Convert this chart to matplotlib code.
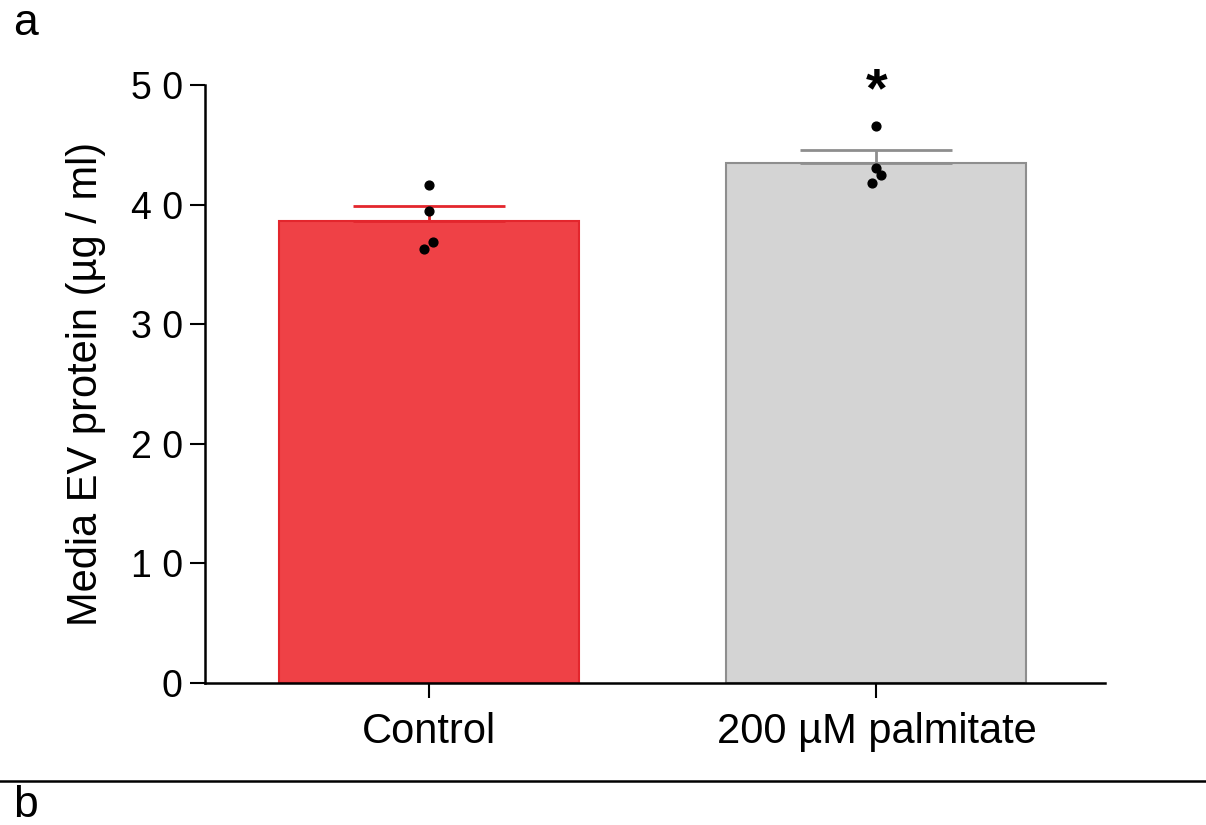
import numpy as np
import matplotlib
matplotlib.use("Agg")
import matplotlib.pyplot as plt
from matplotlib.lines import Line2D

plt.rcParams['font.family'] = ['Liberation Sans', 'DejaVu Sans']

# data
groups = ["Control", "200 µM palmitate"]
means = [38.65, 43.45]
sem = [1.25, 1.1]
points_control = [41.6, 39.5, 36.9, 36.3]
points_palm = [46.6, 43.1, 42.5, 41.8]
jitter_control = [0.0, 0.0, 0.01, -0.01]
jitter_palm = [0.0, 0.0, 0.01, -0.01]
yticks = [0, 10, 20, 30, 40, 50]
ytick_labels = ["0", "1 0", "2 0", "3 0", "4 0", "5 0"]

face = ["#EF4146", "#D4D4D4"]
edge = ["#E3262D", "#8E8E8E"]

fig = plt.figure(figsize=(12.06, 8.25), dpi=100)
ax = fig.add_axes([0.170, 0.172, 0.746, 0.725])

x = np.arange(len(groups))
ax.bar(x, means, width=0.67, color=face, edgecolor=edge, linewidth=1.5, zorder=2)
for i in range(len(groups)):
    ax.errorbar(x[i], means[i], yerr=[[0], [sem[i]]], color=edge[i],
                capsize=55, capthick=2, elinewidth=2, zorder=3)

ax.scatter(x[0] + np.array(jitter_control), points_control, s=40, color="black", zorder=4)
ax.scatter(x[1] + np.array(jitter_palm), points_palm, s=40, color="black", zorder=4)

ax.text(1, 49.4, "*", ha="center", va="center", fontsize=40, fontweight="bold")

ax.set_xlim(-0.5, 1.51)
ax.set_ylim(0, 50)
ax.set_yticks(yticks)
ax.set_yticklabels(ytick_labels)
ax.set_xticks(x)
ax.set_xticklabels(groups)
ax.tick_params(axis="x", labelsize=30, length=11, width=1.5, color="black", pad=10)
ax.tick_params(axis="y", labelsize=27, length=11, width=1.5, color="black", pad=5)
ax.set_ylabel("Media EV protein (µg / ml)", fontsize=30, labelpad=18)

for s in ["top", "right"]:
    ax.spines[s].set_visible(False)
for s in ["left", "bottom"]:
    ax.spines[s].set_linewidth(1.8)

fig.text(0.021, 0.972, "a", fontsize=32, ha="center", va="center")
fig.text(0.021, 0.024, "b", fontsize=32, ha="center", va="center")
fig.add_artist(Line2D([0, 0.999], [0.053, 0.053], color="black", linewidth=1.8))

fig.savefig("out.png", dpi=100)
